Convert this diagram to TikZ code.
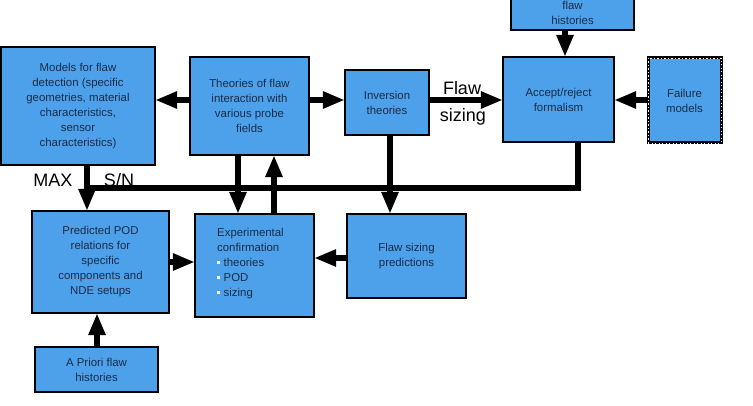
\documentclass[tikz,border=0pt]{standalone}
\usepackage{fontspec}
\setmainfont{Liberation Sans}
\usetikzlibrary{arrows.meta}
\definecolor{boxblue}{HTML}{4DA0EA}
\definecolor{boxtext}{HTML}{1A2C48}
\begin{document}
\begin{tikzpicture}[x=1pt,y=-1pt,
  blk/.style={draw=black, line width=2.2pt, fill=boxblue, text=boxtext,
    font=\fontsize{11.4}{15}\selectfont, align=center, inner sep=0pt},
  conn/.style={line width=6.5pt, draw=black},
  arr/.style={conn, -{Triangle[length=22pt,width=16pt]}, shorten >=-1pt},
  biglbl/.style={font=\fontsize{18}{20}\selectfont, text=black, inner sep=0pt}]
\useasboundingbox (0,0) rectangle (753,406);
\clip (0,0) rectangle (753,406);
\fill[white] (0,0) rectangle (753,406);

% boxes
\node[blk, minimum width=154pt, minimum height=118pt] (models) at (78,106)
  {Models for flaw\\detection (specific\\geometries, material\\characteristics,\\sensor\\characteristics)};
\node[blk, minimum width=119pt, minimum height=98pt] (theories) at (249.5,106)
  {Theories of flaw\\interaction with\\various probe\\fields};
\node[blk, minimum width=84pt, minimum height=65pt] (inversion) at (387,102.5)
  {Inversion\\theories};
\node[blk, minimum width=111pt, minimum height=85pt] (accept) at (558.5,99.5)
  {Accept/reject\\formalism};
\node[blk, minimum width=73pt, minimum height=85pt, line width=3pt,
  postaction={draw=white, line width=0.9pt, dash pattern=on 1.2pt off 2.3pt}] (failure) at (684.5,100.5)
  {Failure\\models};
\node[blk, minimum width=123pt, minimum height=50pt] (post) at (572.5,5) {};
\node[text=boxtext, font=\fontsize{11.4}{15}\selectfont, align=center, inner sep=0pt] (posttxt) at (572.5,12.5)
  {flaw\\histories};
\node[blk, minimum width=137pt, minimum height=102pt] (predicted) at (100.5,262)
  {Predicted POD\\relations for\\specific\\components and\\NDE setups};
\node[blk, minimum width=119pt, minimum height=103pt] (exper) at (254.5,265.5) {};
\node[text=boxtext, font=\fontsize{11.4}{15}\selectfont, align=left, inner sep=0pt, anchor=west] (expertxt) at (217,264)
  {Experimental\\confirmation\\\textcolor{white}{\rule[2.6pt]{3pt}{3pt}}\hspace{3.5pt}theories\\\textcolor{white}{\rule[2.6pt]{3pt}{3pt}}\hspace{3.5pt}POD\\\textcolor{white}{\rule[2.6pt]{3pt}{3pt}}\hspace{3.5pt}sizing};
\node[blk, minimum width=119pt, minimum height=84pt] (fsp) at (406.5,256)
  {Flaw sizing\\predictions};
\node[blk, minimum width=123pt, minimum height=45pt] (apriori) at (96.5,369.5)
  {A Priori flaw\\histories};

% labels
\node[biglbl] (flawlbl) at (462,88) {Flaw};
\node[biglbl] (sizinglbl) at (463,117) {sizing};
\node[biglbl] (maxlbl) at (53,180) {MAX};
\node[biglbl] (snlbl) at (119,180) {S/N};

% connectors
\draw[arr] (theories.west |- 0,100) -- (models.east |- 0,100);
\draw[arr] (theories.east |- 0,100) -- (inversion.west |- 0,100);
\draw[arr] (inversion.east |- 0,100) -- (accept.west |- 0,100);
\draw[arr] (failure.west |- 0,100) -- (accept.east |- 0,100);
\draw[arr] (post.south -| 565,0) -- (accept.north -| 565,0);

\coordinate (busL) at (87,188);
\draw[conn, line join=miter] (accept.south -| 578,0) |- (busL);
\draw[arr] (models.south -| 87,0) -- (predicted.north -| 87,0);
\draw[arr] (theories.south -| 238,0) -- (exper.north -| 238,0);
\draw[arr] (exper.north -| 274,0) -- (theories.south -| 274,0);
\draw[arr] (inversion.south -| 390,0) -- (fsp.north -| 390,0);
\draw[arr] (predicted.east |- 0,262) -- (exper.west |- 0,262);
\draw[arr] (fsp.west |- 0,258) -- (exper.east |- 0,258);
\draw[arr] (apriori.north -| 97,0) -- (predicted.south -| 97,0);
\end{tikzpicture}
\end{document}
